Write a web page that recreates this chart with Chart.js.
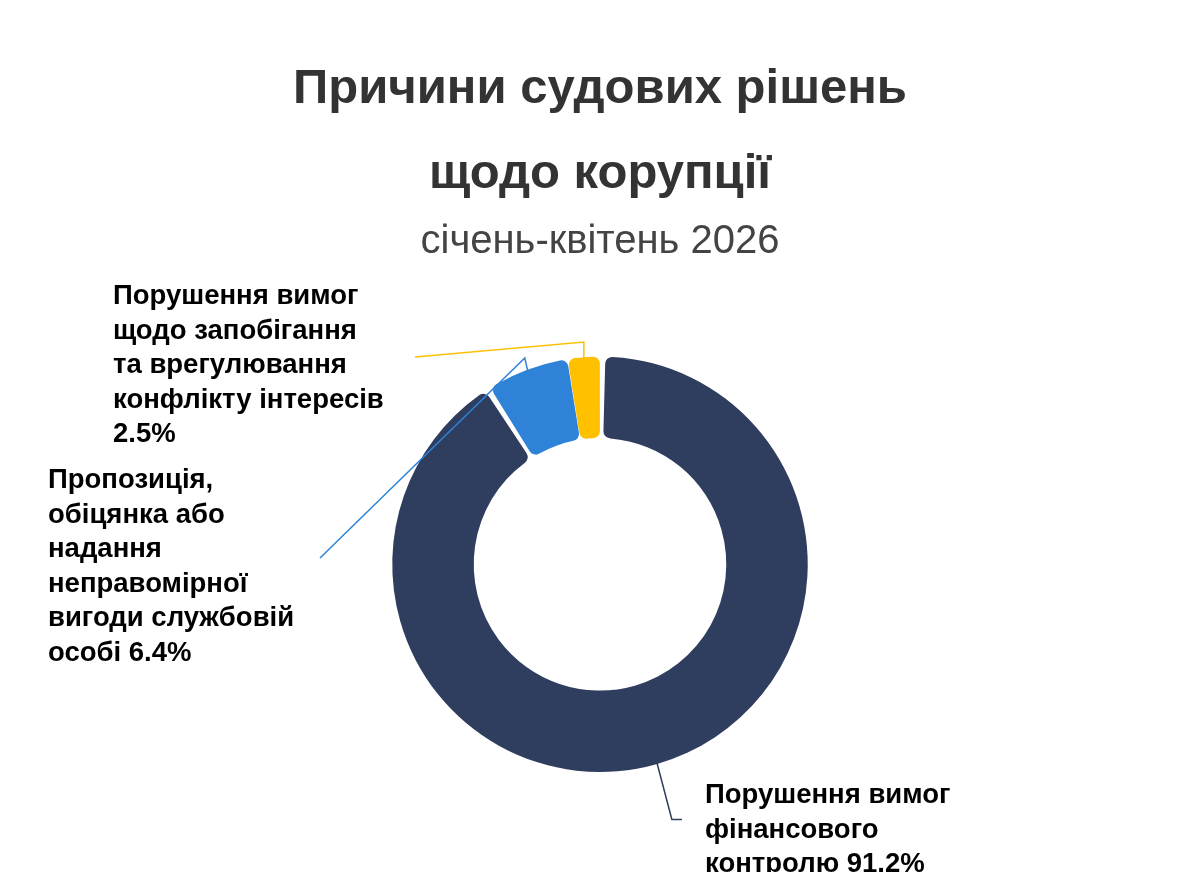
<!DOCTYPE html>
<html lang="uk">
<head>
<meta charset="utf-8">
<title>Причини судових рішень щодо корупції</title>
<script src="https://cdn.jsdelivr.net/npm/chart.js@4.4.1/dist/chart.umd.min.js"></script>
<style>
    html, body { margin: 0; padding: 0; background: #ffffff; }
    #wrap { width: 1200px; height: 872px; position: relative; }
</style>
</head>
<body>
<div id="wrap"><canvas id="reasonsChart"></canvas></div>
<script>
const titleLines = ['Причини судових рішень', 'щодо корупції'];
const subtitleText = 'січень-квітень 2026';

// categories, split into the lines used for the outside labels
const categories = [
    ['Порушення вимог', 'фінансового', 'контролю'],
    ['Пропозиція,', 'обіцянка або', 'надання', 'неправомірної', 'вигоди службовій', 'особі'],
    ['Порушення вимог', 'щодо запобігання', 'та врегулювання', 'конфлікту інтересів', '']
];
const shares = [91.2, 6.4, 2.5];
const sliceColors = ['#2f3d5e', '#2e83d9', '#ffc000'];

// where each outside label sits and how its leader line bends
const labelLayout = [
    { x: 705, y: 803, bend: p => [{ x: p.x + 15, y: p.y + 57 }, { x: p.x + 25, y: p.y + 57 }] },
    { x: 48, y: 488, bend: p => [{ x: p.x - 3, y: p.y - 13 }, { x: 320, y: 558 }] },
    { x: 113, y: 304, bend: p => [{ x: p.x, y: 342 }, { x: 415, y: 357 }] }
];

const outsideLabels = {
    id: 'outsideLabels',
    afterDatasetsDraw(chart) {
        const ctx = chart.ctx;
        const meta = chart.getDatasetMeta(0);
        meta.data.forEach((arc, i) => {
            const { x, y, startAngle, endAngle, outerRadius } = arc.getProps(['x', 'y', 'startAngle', 'endAngle', 'outerRadius'], true);
            const mid = (startAngle + endAngle) / 2;
            const p0 = { x: x + Math.cos(mid) * outerRadius, y: y + Math.sin(mid) * outerRadius };
            const pts = [p0].concat(labelLayout[i].bend(p0));

            ctx.save();
            ctx.strokeStyle = sliceColors[i];
            ctx.lineWidth = 1.5;
            ctx.beginPath();
            ctx.moveTo(pts[0].x, pts[0].y);
            for (let k = 1; k < pts.length; k++) ctx.lineTo(pts[k].x, pts[k].y);
            ctx.stroke();

            const lines = categories[i].slice();
            lines[lines.length - 1] = (lines[lines.length - 1] + ' ' + shares[i] + '%').trim();
            ctx.fillStyle = '#000000';
            ctx.font = 'bold 27.5px "Liberation Sans", Arial, sans-serif';
            ctx.textAlign = 'left';
            ctx.textBaseline = 'alphabetic';
            lines.forEach((t, k) => ctx.fillText(t, labelLayout[i].x, labelLayout[i].y + k * 34.5));
            ctx.restore();
        });
    }
};

new Chart(document.getElementById('reasonsChart'), {
    type: 'doughnut',
    data: {
        labels: categories.map(c => c.join(' ')),
        datasets: [{
            data: shares,
            backgroundColor: sliceColors,
            borderWidth: 0,
            borderRadius: 7,
            spacing: 3
        }]
    },
    options: {
        responsive: true,
        maintainAspectRatio: false,
        animation: false,
        cutout: '60.5%',
        layout: { padding: { top: 0, bottom: 100, left: 0, right: 0 } },
        plugins: {
            legend: { display: false },
            tooltip: { enabled: false },
            title: {
                display: true,
                text: titleLines,
                color: '#333333',
                font: { family: '"Liberation Sans", Arial, sans-serif', size: 49, weight: 'bold', lineHeight: 1.74 },
                padding: { top: 47, bottom: 0 }
            },
            subtitle: {
                display: true,
                text: subtitleText,
                color: '#444444',
                font: { family: '"Liberation Sans", Arial, sans-serif', size: 40, weight: 'normal' },
                padding: { top: 0, bottom: 91 }
            }
        }
    },
    plugins: [outsideLabels]
});
</script>
</body>
</html>
